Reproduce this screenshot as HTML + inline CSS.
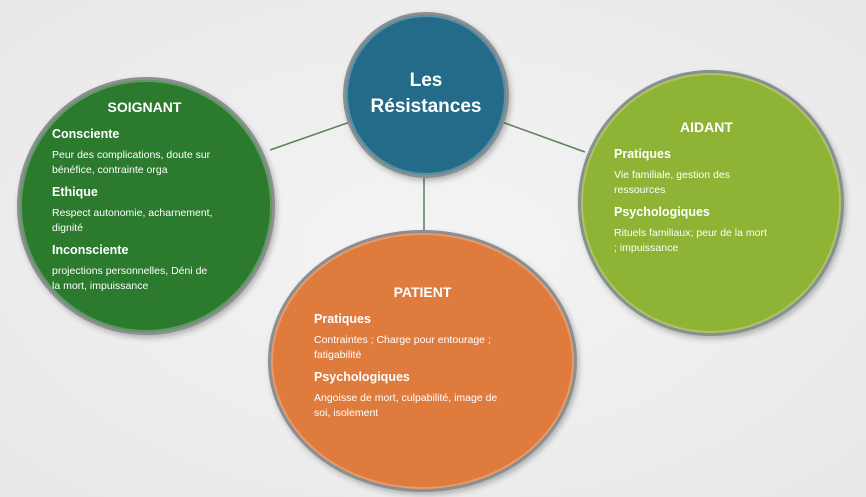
<!DOCTYPE html>
<html><head><meta charset="utf-8"><style>
html,body{margin:0;padding:0}
body{width:866px;height:497px;overflow:hidden;background:radial-gradient(ellipse at 50% 50%,#f4f4f4 0%,#e8e8e8 100%);font-family:"Liberation Sans",sans-serif;position:relative}
.c{position:absolute;border-radius:50%;box-sizing:border-box;border:3px solid #8a8f92;color:#fff;box-shadow:inset 0 0 0 2px rgba(255,255,255,0.25),2px 3px 6px rgba(0,0,0,0.25)}
.t{position:absolute;color:#fff;white-space:nowrap}
h3{margin:0;font-size:14px;line-height:18px;font-weight:bold;text-align:center}
b{display:block;font-size:12.5px;line-height:16px;margin-top:6px}
h3+b{margin-top:10px}
p{margin:6px 0 0;font-size:10.5px;line-height:15px}
</style></head><body>
<svg width="866" height="497" style="position:absolute;left:0;top:0">
<line x1="270" y1="150" x2="350" y2="122" stroke="#5f7f5c" stroke-width="1.5"/>
<line x1="502" y1="122" x2="585" y2="152" stroke="#5f7f5c" stroke-width="1.5"/>
<line x1="424" y1="175" x2="424" y2="232" stroke="#5f7f5c" stroke-width="1.5"/>
</svg>
<div class="c" style="left:343px;top:12px;width:166px;height:166px;background:#236b88"></div>
<div class="t" style="left:343px;top:68px;width:166px;text-align:center;font-size:19px;font-weight:bold;line-height:26px">Les<br>Résistances</div>

<div class="c" style="left:17px;top:77px;width:258px;height:258px;background:#2b7a2e"></div>
<div class="t" style="left:52px;top:98px;width:195px">
<h3 style="margin-left:-10px">SOIGNANT</h3>
<b>Consciente</b><p>Peur des complications, doute sur<br>bénéfice, contrainte orga</p>
<b>Ethique</b><p>Respect autonomie, acharnement,<br>dignité</p>
<b>Inconsciente</b><p>projections personnelles, Déni de<br>la mort, impuissance</p>
</div>

<div class="c" style="left:578px;top:70px;width:266px;height:266px;background:#8fb334"></div>
<div class="t" style="left:614px;top:118px;width:175px">
<h3 style="margin-left:10px">AIDANT</h3>
<b>Pratiques</b><p>Vie familiale, gestion des<br>ressources</p>
<b>Psychologiques</b><p>Rituels familiaux; peur de la mort<br>; impuissance</p>
</div>

<div class="c" style="left:268px;top:230px;width:309px;height:262px;background:#e07b3e"></div>
<div class="t" style="left:314px;top:283px;width:215px">
<h3 style="margin-left:2px">PATIENT</h3>
<b>Pratiques</b><p>Contraintes ; Charge pour entourage ;<br>fatigabilité</p>
<b>Psychologiques</b><p>Angoisse de mort, culpabilité, image de<br>soi, isolement</p>
</div>
</body></html>
